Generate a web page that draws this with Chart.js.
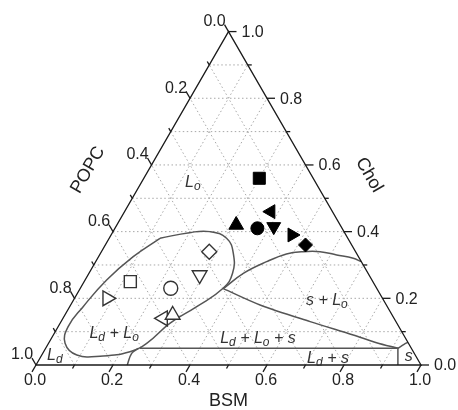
<!DOCTYPE html>
<html>
<head>
<meta charset="utf-8">
<script src="https://cdn.jsdelivr.net/npm/chart.js@4/dist/chart.umd.min.js"></script>
<style>
  html, body { margin: 0; padding: 0; background: #fff; }
  canvas { display: block; }
</style>
</head>
<body>
<canvas id="tern" width="458" height="410"></canvas>
<script>
// ternary coords: BSM along the bottom (0 left -> 1 right),
// Chol along the right side (0 bottom -> 1 top), POPC = 1 - BSM - Chol
const filledBSM  = [0.30, 0.38, 0.31, 0.37, 0.41, 0.47, 0.52];
const filledChol = [0.56, 0.46, 0.42, 0.41, 0.415, 0.39, 0.36];
const openBSM  = [0.28, 0.29, 0.12, 0.235, 0.085, 0.26, 0.28];
const openChol = [0.34, 0.27, 0.25, 0.23, 0.20, 0.14, 0.15];

// Ld + Lo loop (closed)
const loopBSM  = [0.132, 0.20, 0.252, 0.305, 0.345, 0.373, 0.371, 0.330, 0.285, 0.255, 0.224, 0.161, 0.091, 0.043, 0.026, 0.035, 0.056, 0.090, 0.132];
const loopChol = [0.380, 0.397, 0.400, 0.380, 0.335, 0.275, 0.230, 0.175, 0.125, 0.065, 0.040, 0.027, 0.030, 0.065, 0.115, 0.175, 0.255, 0.325, 0.380];
// s + Lo upper boundary
const loBSM  = [0.372, 0.401, 0.444, 0.484, 0.524, 0.568, 0.616, 0.664, 0.69];
const loChol = [0.229, 0.275, 0.310, 0.333, 0.340, 0.340, 0.330, 0.320, 0.31];
// tie line to the s corner
const tieBSM  = [0.372, 0.492, 0.647, 0.779, 0.851, 0.915];
const tieChol = [0.229, 0.180, 0.130, 0.090, 0.067, 0.050];
// three-phase bottom line + vertical to the axis
const triBSM  = [0.245, 0.915, 0.94];
const triChol = [0.05, 0.05, 0.0];
const sBSM  = [0.915, 0.925, 0.932];
const sChol = [0.05, 0.062, 0.068];
const footBSM  = [0.237, 0.231, 0.241];
const footChol = [0.0, 0.035, 0.05];

const tickVals = [0, 0.2, 0.4, 0.6, 0.8, 1.0];

const phaseText = ['L_o', 'L_d + L_o', 'L_d', 'L_d + L_o + s', 's + L_o', 'L_d + s', 's'];
const phaseBSM  = [0.133, 0.155, 0.034, 0.536, 0.658, 0.748, 0.955];
const phaseChol = [0.549, 0.096, 0.030, 0.081, 0.195, 0.021, 0.027];

const H = Math.sqrt(3) / 2;
const toXY = (b, c) => ({ x: b + c / 2, y: c * H });
const pairs = (bs, cs) => bs.map((b, i) => toXY(b, cs[i]));

function pt(chart, b, c) {
  const p = toXY(b, c);
  return { x: chart.scales.x.getPixelForValue(p.x), y: chart.scales.y.getPixelForValue(p.y) };
}

function seg(chart, a, b) {
  const p = pt(chart, a[0], a[1]), q = pt(chart, b[0], b[1]);
  const ctx = chart.ctx;
  ctx.beginPath();
  ctx.moveTo(p.x, p.y);
  ctx.lineTo(q.x, q.y);
  ctx.stroke();
}

function drawRich(ctx, str, cx, cy) {
  const segs = [];
  for (let i = 0; i < str.length; i++) {
    if (str[i] === '_') { segs.push({ t: str[i + 1], sub: true }); i++; }
    else segs.push({ t: str[i], sub: false });
  }
  const big = 'italic 16px "Liberation Sans"', small = 'italic 12px "Liberation Sans"';
  let w = 0;
  segs.forEach(s => { ctx.font = s.sub ? small : big; s.w = ctx.measureText(s.t).width; w += s.w; });
  let x = cx - w / 2;
  ctx.textAlign = 'left';
  ctx.textBaseline = 'alphabetic';
  segs.forEach(s => {
    ctx.font = s.sub ? small : big;
    ctx.fillText(s.t, x, cy + 5 + (s.sub ? 3 : 0));
    x += s.w;
  });
}

const ternPlugin = {
  id: 'ternPlugin',
  beforeDatasetsDraw(chart) {
    const ctx = chart.ctx;
    ctx.save();
    ctx.strokeStyle = '#a8a8a8';
    ctx.lineWidth = 1;
    ctx.setLineDash([1.5, 2.5]);
    for (let i = 1; i < 10; i++) {
      const v = i / 10;
      seg(chart, [0, v], [1 - v, v]);
      seg(chart, [v, 0], [v, 1 - v]);
      seg(chart, [1 - v, 0], [0, 1 - v]);
    }
    ctx.restore();
  },
  afterDatasetsDraw(chart) {
    const ctx = chart.ctx;
    ctx.save();
    // triangle frame
    const A = pt(chart, 0, 0), B = pt(chart, 1, 0), C = pt(chart, 0, 1);
    ctx.strokeStyle = '#1a1a1a';
    ctx.lineWidth = 1.3;
    ctx.beginPath();
    ctx.moveTo(A.x, A.y); ctx.lineTo(B.x, B.y); ctx.lineTo(C.x, C.y); ctx.closePath();
    ctx.stroke();

    // ticks
    for (let i = 0; i <= 10; i++) {
      const v = i / 10, len = i % 2 === 0 ? 8 : 4;
      let p = pt(chart, v, 0);                       // BSM, down-left
      ctx.beginPath(); ctx.moveTo(p.x, p.y); ctx.lineTo(p.x - 0.5 * len, p.y + H * len); ctx.stroke();
      p = pt(chart, 1 - v, v);                       // Chol, right
      ctx.beginPath(); ctx.moveTo(p.x, p.y); ctx.lineTo(p.x + len, p.y); ctx.stroke();
      p = pt(chart, 0, 1 - v);                       // POPC, up-left
      ctx.beginPath(); ctx.moveTo(p.x, p.y); ctx.lineTo(p.x - 0.5 * len, p.y - H * len); ctx.stroke();
    }

    // tick labels
    ctx.fillStyle = '#222';
    ctx.font = '16px "Liberation Sans"';
    ctx.textBaseline = 'middle';
    tickVals.forEach(v => {
      const lab = v.toFixed(1);
      let p = pt(chart, v, 0);
      ctx.textAlign = 'center';
      ctx.fillText(lab, p.x - 1, p.y + 16);
      p = pt(chart, 1 - v, v);
      ctx.textAlign = 'left';
      ctx.fillText(lab, p.x + 13, p.y + 1);
      p = pt(chart, 0, 1 - v);
      ctx.textAlign = 'center';
      ctx.fillText(lab, p.x - 14, p.y - 10);
    });

    // axis titles
    ctx.font = '18px "Liberation Sans"';
    ctx.textAlign = 'center';
    ctx.fillText('BSM', (A.x + B.x) / 2, A.y + 36);
    ctx.save();
    ctx.translate(88, 170);
    ctx.rotate(-Math.PI / 3);
    ctx.fillText('POPC', 0, 0);
    ctx.restore();
    ctx.save();
    ctx.translate(369, 175);
    ctx.rotate(Math.PI / 3);
    ctx.fillText('Chol', 0, 0);
    ctx.restore();

    // phase labels
    ctx.fillStyle = '#333';
    phaseText.forEach((t, i) => {
      const p = pt(chart, phaseBSM[i], phaseChol[i]);
      drawRich(ctx, t, p.x, p.y);
    });
    ctx.restore();
  }
};

const curve = (bs, cs, tension) => ({
  data: pairs(bs, cs),
  showLine: true,
  borderColor: '#555',
  borderWidth: 1.5,
  pointRadius: 0,
  tension: tension,
  fill: false
});

const data = {
  datasets: [
    {
      data: pairs(filledBSM, filledChol),
      pointStyle: ['rect', 'triangle', 'triangle', 'circle', 'triangle', 'triangle', 'rectRot'],
      rotation: [0, 270, 0, 0, 180, 90, 0],
      radius: [8.5, 8, 8.5, 6.5, 8, 8, 7],
      backgroundColor: '#000',
      borderColor: '#000',
      borderWidth: 1
    },
    {
      data: pairs(openBSM, openChol),
      pointStyle: ['rectRot', 'triangle', 'rect', 'circle', 'triangle', 'triangle', 'triangle'],
      rotation: [0, 180, 0, 0, 90, 270, 0],
      radius: [7.5, 8.5, 8.5, 7, 8.5, 8.5, 8.5],
      backgroundColor: '#fff',
      borderColor: '#333',
      borderWidth: 1.4
    },
    curve(loopBSM, loopChol, 0.45),
    curve(loBSM, loChol, 0.4),
    curve(tieBSM, tieChol, 0.3),
    curve(triBSM, triChol, 0),
    curve(sBSM, sChol, 0.3),
    curve(footBSM, footChol, 0.4)
  ]
};

const config = {
  type: 'scatter',
  data,
  options: {
    responsive: false,
    animation: false,
    layout: { padding: 0, autoPadding: false },
    plugins: { legend: { display: false }, tooltip: { enabled: false } },
    scales: {
      x: { type: 'linear', display: false, min: -36 / 385, max: 422 / 385 },
      y: { type: 'linear', display: false, min: -45 / 385, max: 365 / 385 }
    }
  },
  plugins: [ternPlugin]
};

new Chart(document.getElementById('tern'), config);
</script>
</body>
</html>
